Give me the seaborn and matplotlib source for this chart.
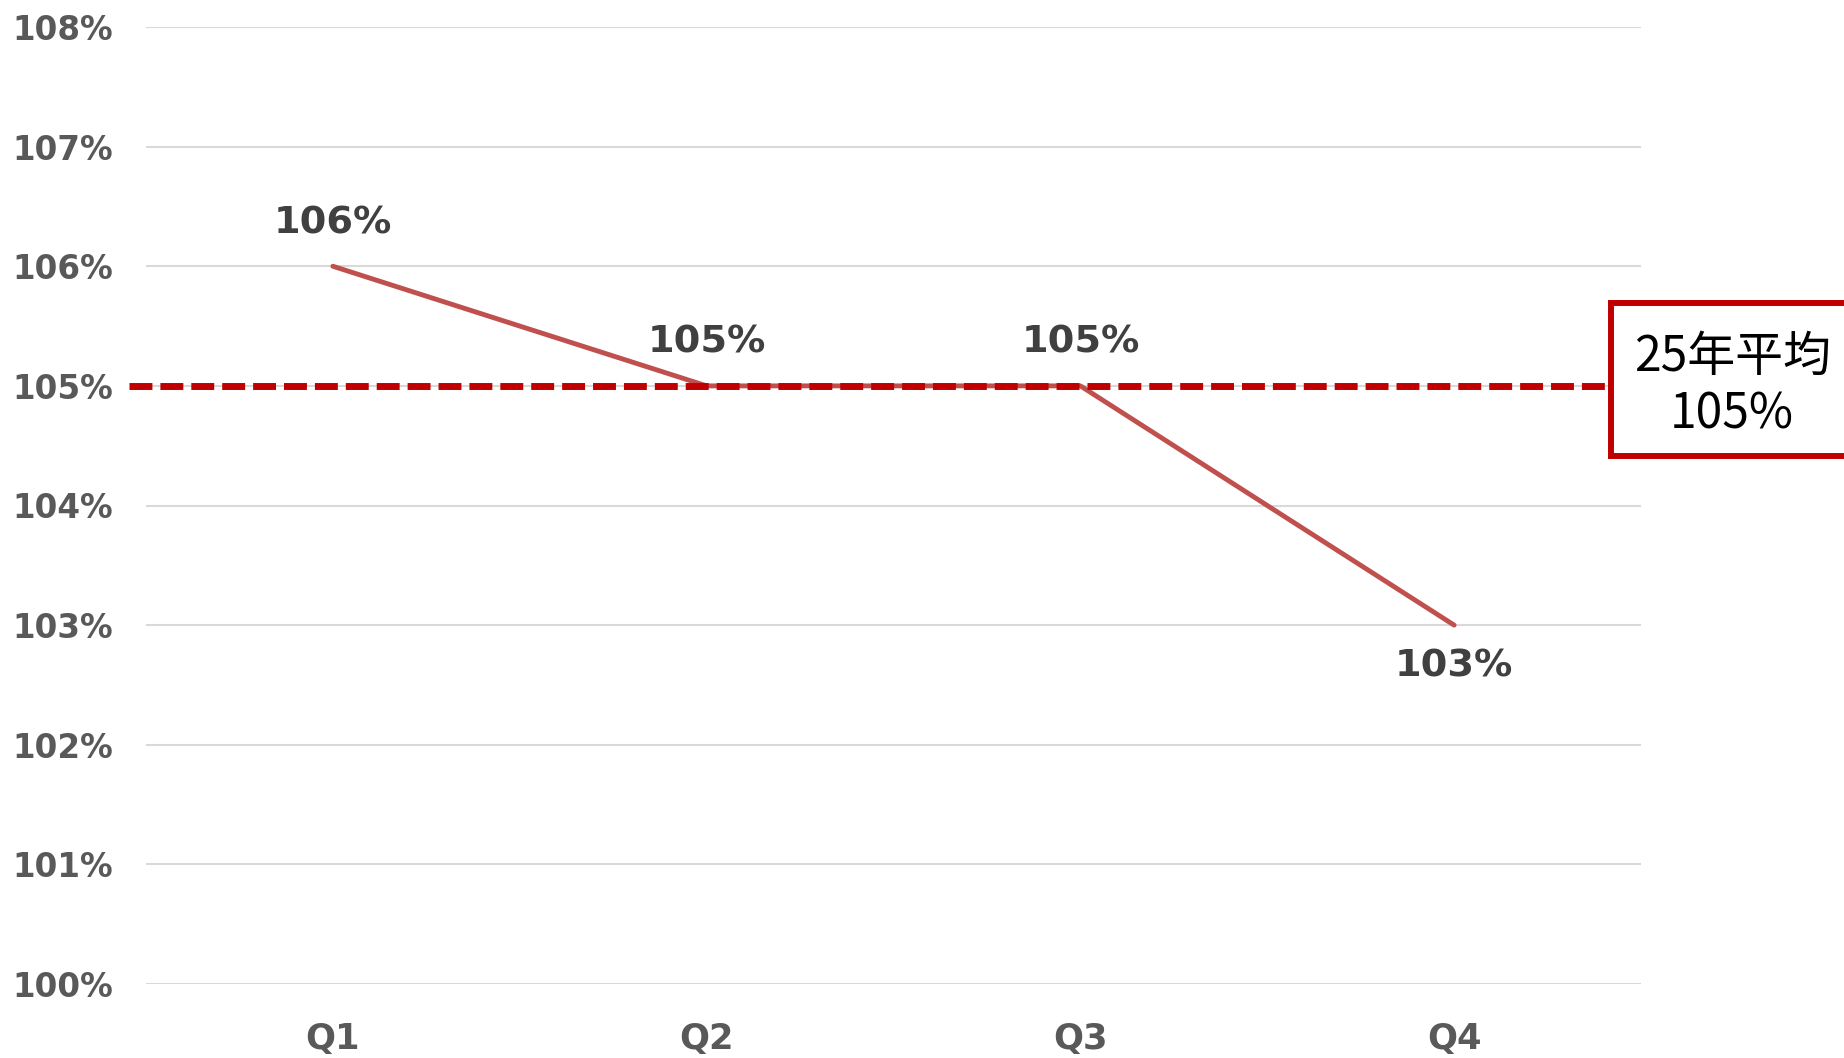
import numpy as np
import pandas as pd
import matplotlib
matplotlib.use("Agg")
import matplotlib.pyplot as plt
import matplotlib.transforms as mtransforms
from matplotlib.patches import Rectangle
import seaborn as sns

# Quarterly ratio (%) and the yearly average
quarters = ["Q1", "Q2", "Q3", "Q4"]
ratio = [106, 105, 105, 103]
average = 105
average_label = "25年平均"
y_ticks = [100, 101, 102, 103, 104, 105, 106, 107, 108]

sns.set_theme(style="white")
plt.rcParams["font.family"] = ["DejaVu Sans"]

df = pd.DataFrame({"quarter": quarters, "ratio": ratio})

fig = plt.figure(figsize=(18.44, 10.58), dpi=100)
ax = fig.add_axes([146 / 1844, 1 - 984 / 1058, (1641 - 146) / 1844, (984 - 27) / 1058])

# Series line
sns.lineplot(data=df, x="quarter", y="ratio", sort=False, ax=ax,
             color="#C0504D", linewidth=3.5, zorder=3)

ax.set_xlim(-0.5, len(quarters) - 0.5)
ax.set_ylim(y_ticks[0], y_ticks[-1])
ax.set_yticks(y_ticks)
ax.set_yticklabels([f"{v}%" for v in y_ticks])
ax.yaxis.grid(True, color="#D9D9D9", linewidth=1.5, zorder=0)
ax.xaxis.grid(False)
for s in ax.spines.values():
    s.set_visible(False)
ax.tick_params(axis="y", length=0, pad=24, labelsize=23.5, labelcolor="#595959")
ax.tick_params(axis="x", length=0, pad=27, labelsize=25.5, labelcolor="#595959")
for lab in ax.get_yticklabels() + ax.get_xticklabels():
    lab.set_fontweight("bold")
ax.set_xlabel("")
ax.set_ylabel("")

# Average reference line (extends slightly left of the plot area)
ax.plot([-0.545, 3.45], [average, average], color="#C00000", linewidth=5,
        linestyle=(0, (3.3, 1.15)), zorder=4, clip_on=False)

# Value labels
for i, v in enumerate(ratio):
    below = i == len(ratio) - 1
    ax.annotate(f"{v}%", xy=(i, v), xytext=(0, -30 if below else 31),
                textcoords="offset points", ha="center", va="center",
                fontsize=27.5, fontweight="bold", color="#404040", zorder=5)

# Average callout box at the right edge
blend = mtransforms.blended_transform_factory(fig.transFigure, ax.transData)
box = Rectangle((1611 / 1844, average - 0.59), 0.2, 1.28, transform=blend,
                facecolor="white", edgecolor="#C00000", linewidth=4.3,
                zorder=6, clip_on=False)
fig.add_artist(box)
fig.text(1732 / 1844, average, f"{average_label}\n{average}%", transform=blend,
         ha="center", va="center", fontsize=34.5, color="black", linespacing=1.2,
         family=["Noto Sans CJK JP", "DejaVu Sans"], zorder=7)

fig.savefig("out.png", dpi=100)
